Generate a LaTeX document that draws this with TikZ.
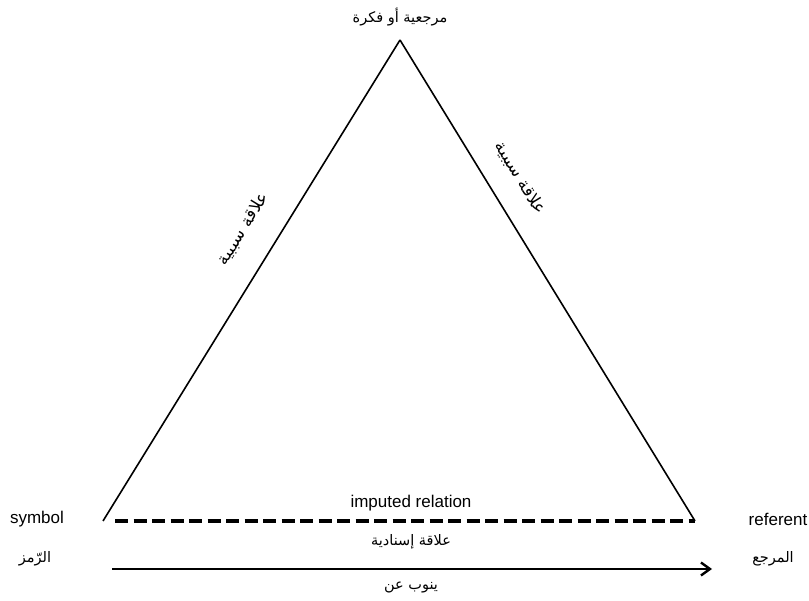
\documentclass[tikz,border=0pt]{standalone}
\usepackage{fontspec}
\setmainfont{Liberation Sans}
\newfontfamily\arabicfont[Script=Arabic]{DejaVu Sans}
\TeXXeTstate=1
\usetikzlibrary{arrows.meta, positioning}

\begin{document}
\begin{tikzpicture}[
        x=1pt, y=-1pt,
        side/.style={line width=1.6pt},
        imputed/.style={line width=3.6pt, dash pattern=on 13pt off 5.5pt},
        arrow/.style={-{Straight Barb[length=9pt, width=13pt]}, line width=2.4pt},
        latin/.style={font=\fontsize{17}{20}\selectfont, inner sep=1pt},
        arab/.style={font=\arabicfont\fontsize{14.5}{17}\selectfont, inner sep=1pt},
        slanted/.style={font=\arabicfont\fontsize{17}{20}\selectfont, inner sep=1pt}
    ]
        \useasboundingbox (0,0) rectangle (809,601);

        % Corners
        \coordinate (apex) at (400,40);
        \coordinate (symbolcorner) at (103,521);
        \coordinate (referentcorner) at (695,521);
        \coordinate (dashstart) at (115,521);
        \coordinate (arrowstart) at (112,569);
        \coordinate (arrowend) at (712,569);

        % Labels
        \node[arab] (thought) at (400,17) {\beginR مرجعية أو فكرة\endR};
        \node[latin] (symbol) at (37,519) {symbol};
        \node[arab] (symbolar) at (35,559) {\beginR الرّمز\endR};
        \node[latin] (referent) at (778,519) {referent};
        \node[arab] (referentar) at (773,559) {\beginR المرجع\endR};
        \node[latin] (imputedlbl) at (411,503) {imputed relation};
        \node[arab] (imputedar) at (411,542) {\beginR علاقة إسنادية\endR};
        \node[arab] (standsfor) at (411,587) {\beginR ينوب عن\endR};

        % Triangle
        \draw[side] (symbolcorner) -- node[slanted, pos=0.57, sloped, above=25pt] {\beginR علاقة سببية\endR} (apex);
        \draw[side] (apex) -- node[slanted, pos=0.32, sloped, above=21pt] {\beginR علاقة سببية\endR} (referentcorner);
        \draw[imputed] (dashstart) -- (referentcorner);

        % Stands for
        \draw[arrow] (arrowstart) -- (arrowend);
    \end{tikzpicture}
\end{document}
